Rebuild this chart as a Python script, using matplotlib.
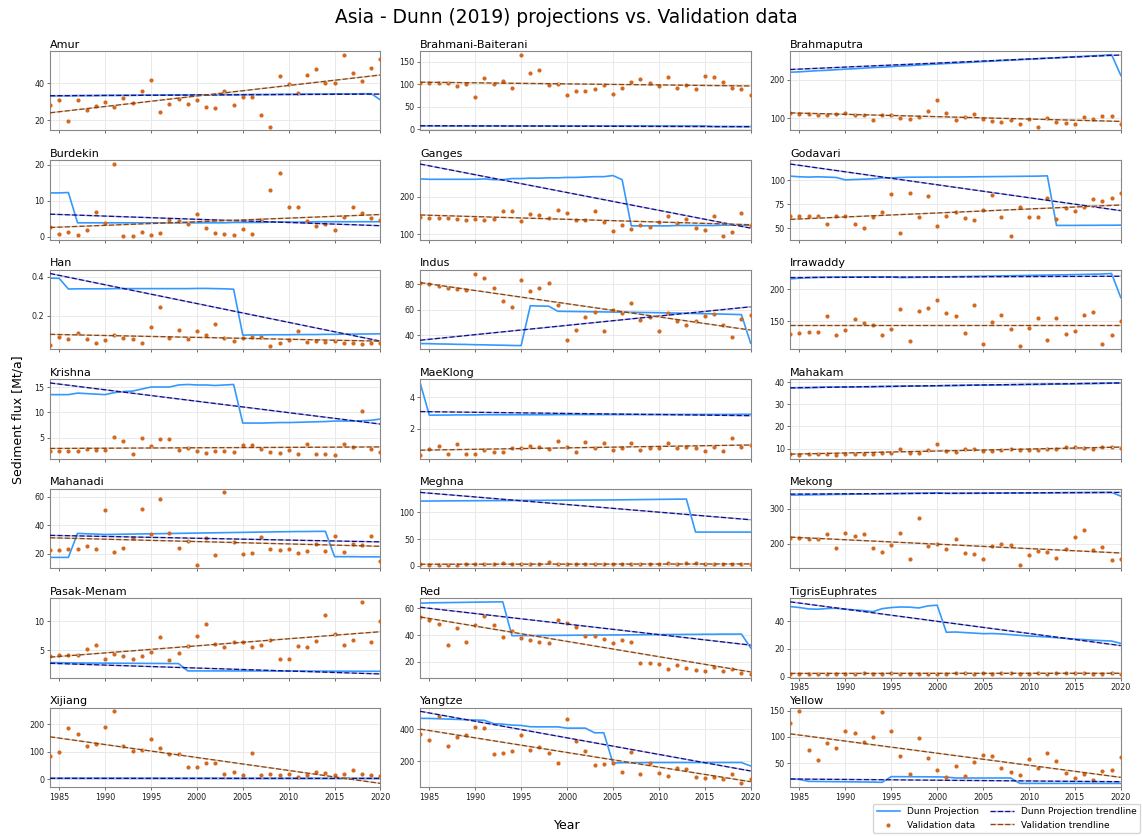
import matplotlib.pyplot as plt
from matplotlib.ticker import MaxNLocator, MultipleLocator

years = list(range(1984, 2021))

rivers = ['Amur', 'Brahmani-Baiterani', 'Brahmaputra',
          'Burdekin', 'Ganges', 'Godavari',
          'Han', 'Indus', 'Irrawaddy',
          'Krishna', 'MaeKlong', 'Mahakam',
          'Mahanadi', 'Meghna', 'Mekong',
          'Pasak-Menam', 'Red', 'TigrisEuphrates',
          'Xijiang', 'Yangtze', 'Yellow']

# Dunn (2019) projected sediment flux [Mt/a], 1984-2020
dunn_projection = [
    # Amur
    [33.3, 33.3, 33.3, 33.4, 33.4, 33.4, 33.5, 33.5, 33.5, 33.5,
     33.6, 33.6, 33.6, 33.7, 33.7, 33.7, 33.8, 33.8, 33.8, 33.9,
     33.9, 33.9, 34.0, 34.0, 34.0, 34.1, 34.1, 34.1, 34.2, 34.2,
     34.2, 34.3, 34.3, 34.3, 34.4, 34.4, 31.0],
    # Brahmani-Baiterani
    [7.2, 7.2, 7.1, 7.1, 7.1, 7.1, 7.0, 7.0, 7.0, 7.0,
     7.0, 7.0, 7.0, 7.0, 7.0, 7.0, 6.9, 6.9, 6.9, 6.9,
     6.9, 6.9, 6.9, 6.9, 6.9, 6.8, 6.8, 6.8, 6.8, 6.8,
     6.8, 6.8, 5.6, 5.6, 5.6, 5.6, 5.6],
    # Brahmaputra
    [219, 220, 221.5, 223, 224, 225.5, 227, 228, 229.5, 231,
     232, 233.5, 235, 236, 237.5, 239, 240, 241.5, 242.5, 244,
     245, 246.5, 247.5, 249, 250, 251.5, 252.5, 254, 255, 256.5,
     257.5, 259, 260, 261.5, 262.5, 264.5, 211],
    # Burdekin
    [12.2, 12.2, 12.3, 3.9, 3.9, 3.9, 3.9, 3.9, 3.9, 3.9,
     3.9, 3.9, 3.9, 3.9, 3.9, 3.9, 3.9, 3.9, 3.9, 3.9,
     4.0, 4.0, 4.0, 4.0, 4.1, 4.1, 4.1, 4.1, 4.1, 4.2,
     4.2, 4.2, 4.2, 4.2, 4.2, 4.2, 4.2],
    # Ganges
    [247, 246, 246, 246, 246, 246, 246, 247, 245, 245,
     248, 248, 249, 249, 250, 250, 251, 251, 252, 253,
     253, 256, 245, 122, 122, 122, 122, 122, 123, 123,
     123, 123, 123, 124, 124, 124, 124],
    # Godavari
    [104.2, 103.5, 103.2, 103.5, 103.2, 102.8, 100.3, 100.7, 101.0, 101.4,
     102.4, 102.4, 102.8, 103.1, 103.1, 103.2, 103.2, 103.3, 103.3, 103.4,
     103.5, 103.6, 103.7, 103.8, 103.9, 104.0, 104.1, 104.2, 104.5, 52.8,
     52.8, 52.8, 52.9, 52.9, 53.0, 53.0, 53.1],
    # Han
    [0.393, 0.392, 0.337, 0.338, 0.338, 0.338, 0.338, 0.339, 0.339, 0.339,
     0.339, 0.339, 0.339, 0.339, 0.339, 0.339, 0.340, 0.340, 0.339, 0.338,
     0.336, 0.099, 0.100, 0.100, 0.101, 0.101, 0.101, 0.102, 0.102, 0.102,
     0.103, 0.103, 0.104, 0.104, 0.105, 0.105, 0.106],
    # Indus
    [33.7, 33.6, 33.4, 33.3, 33.1, 33.0, 32.8, 32.7, 32.5, 32.4,
     32.2, 32.1, 63.2, 63.0, 62.9, 58.9, 58.8, 58.7, 58.6, 58.5,
     58.4, 58.3, 58.2, 58.1, 58.0, 57.9, 57.8, 57.6, 57.5, 57.3,
     57.2, 57.0, 56.9, 56.7, 56.5, 56.3, 34.0],
    # Irrawaddy
    [216.5, 217.6, 218.5, 219.0, 219.2, 219.4, 219.5, 219.5, 219.6, 219.6,
     219.7, 219.7, 218.6, 218.8, 219.0, 219.2, 219.5, 219.7, 220.0, 220.2,
     220.5, 220.7, 221.0, 221.2, 221.5, 221.8, 222.0, 222.3, 222.5, 222.8,
     223.0, 223.3, 223.6, 223.9, 224.2, 225.0, 187.0],
    # Krishna
    [13.5, 13.5, 13.5, 13.8, 13.7, 13.6, 13.5, 13.9, 14.1, 14.2,
     14.6, 15.0, 15.0, 15.0, 15.4, 15.5, 15.4, 15.4, 15.3, 15.4,
     15.5, 7.9, 7.9, 7.9, 7.95, 8.0, 8.0, 8.05, 8.1, 8.15,
     8.2, 8.3, 8.3, 8.3, 8.35, 8.45, 8.7],
    # MaeKlong
    [4.9, 2.85, 2.86, 2.86, 2.87, 2.87, 2.87, 2.88, 2.88, 2.88,
     2.88, 2.88, 2.88, 2.88, 2.88, 2.89, 2.89, 2.89, 2.89, 2.89,
     2.89, 2.89, 2.89, 2.89, 2.89, 2.89, 2.9, 2.9, 2.9, 2.9,
     2.9, 2.9, 2.9, 2.9, 2.9, 2.91, 2.91],
    # Mahakam
    [37.4, 37.5, 37.5, 37.6, 37.7, 37.7, 37.8, 37.8, 37.9, 37.9,
     38.0, 38.0, 38.1, 38.2, 38.2, 38.3, 38.3, 38.4, 38.4, 38.5,
     38.6, 38.6, 38.7, 38.7, 38.8, 38.8, 38.9, 38.9, 39.0, 39.1,
     39.1, 39.2, 39.3, 39.3, 39.4, 39.5, 39.6],
    # Mahanadi
    [17.4, 17.4, 17.4, 34.3, 34.0, 33.8, 33.5, 33.6, 33.7, 33.8,
     33.9, 34.0, 34.1, 34.2, 34.3, 34.4, 34.5, 34.6, 34.7, 34.8,
     34.9, 35.0, 35.1, 35.2, 35.3, 35.4, 35.5, 35.6, 35.6, 35.7,
     35.7, 17.9, 17.9, 17.9, 17.8, 17.8, 17.8],
    # Meghna
    [120.8, 120.9, 121.0, 121.2, 121.3, 121.4, 121.5, 121.6, 121.7, 121.8,
     121.9, 122.0, 122.1, 122.2, 122.3, 122.4, 122.5, 122.6, 122.7, 122.8,
     122.9, 123.0, 123.2, 123.4, 123.6, 123.8, 124.0, 124.2, 124.4, 124.5,
     63.0, 63.0, 63.0, 63.0, 63.0, 63.0, 63.0],
    # Mekong
    [338.8, 339.2, 339.6, 340.0, 340.4, 340.8, 341.2, 341.6, 342.0, 342.4,
     342.8, 343.2, 343.6, 344.0, 344.4, 344.8, 345.6, 343.7, 343.8, 343.9,
     344.0, 344.2, 344.4, 344.6, 344.8, 345.0, 345.2, 345.4, 345.6, 345.8,
     346.0, 346.1, 346.2, 346.3, 346.4, 346.6, 336.0],
    # Pasak-Menam
    [2.93, 2.9, 2.88, 2.86, 2.85, 2.84, 2.83, 2.82, 2.81, 2.8,
     2.79, 2.78, 2.77, 2.76, 2.75, 1.5, 1.5, 1.5, 1.5, 1.5,
     1.5, 1.5, 1.5, 1.49, 1.49, 1.48, 1.48, 1.47, 1.47, 1.46,
     1.46, 1.45, 1.45, 1.45, 1.44, 1.44, 1.43],
    # Red
    [63.75, 64.0, 64.1, 64.2, 64.3, 64.4, 64.5, 64.6, 64.7, 64.75,
     39.5, 39.6, 39.6, 39.7, 39.7, 39.8, 39.8, 39.9, 39.9, 40.0,
     40.0, 40.1, 40.1, 40.2, 40.2, 40.3, 40.3, 40.4, 40.4, 40.5,
     40.5, 40.6, 40.6, 40.7, 40.7, 40.75, 30.5],
    # TigrisEuphrates
    [50.5, 49.8, 48.8, 48.6, 49.1, 49.3, 48.6, 48.1, 47.6, 46.8,
     49.0, 49.8, 50.2, 50.1, 49.5, 51.0, 51.5, 32.0, 32.2, 31.8,
     31.4, 31.0, 31.1, 30.8, 30.3, 29.8, 29.3, 29.0, 28.6, 28.1,
     27.6, 27.1, 26.7, 26.3, 26.0, 25.7, 24.0],
    # Xijiang
    [2.6, 2.6, 2.6, 2.5, 2.5, 2.5, 2.5, 2.5, 2.5, 2.4,
     2.4, 2.4, 2.4, 2.4, 2.4, 2.4, 2.4, 2.4, 2.4, 2.4,
     2.3, 2.3, 2.3, 2.3, 2.3, 2.3, 2.3, 2.3, 2.3, 2.3,
     2.3, 2.3, 2.2, 2.2, 2.2, 2.2, 2.0],
    # Yangtze
    [469.5, 469, 467, 465, 463, 461, 459, 457, 435.8, 433,
     427, 425, 416.8, 416, 416, 416, 408, 408, 408, 379,
     379, 189.5, 191, 191, 191, 192, 192, 192, 192, 192,
     192, 192, 192, 192, 192, 192, 170.5],
    # Yellow
    [19.9, 19.2, 15.4, 15.2, 15.0, 14.8, 14.6, 14.4, 14.2, 14.0,
     13.5, 24.4, 24.3, 24.2, 24.1, 24.0, 23.9, 23.5, 21.8, 21.8,
     21.8, 21.8, 21.8, 21.8, 21.8, 11.5, 11.5, 11.5, 11.5, 11.5,
     11.5, 11.5, 11.5, 11.5, 11.5, 11.5, 11.5],
]

# observed sediment flux [Mt/a], 1984-2020
validation = [
    # Amur
    [28.3, 30.8, 19.8, 31.2, 25.4, 27.9, 29.7, 27.4, 32.1, 29.4,
     36.0, 42.0, 24.5, 29.0, 31.7, 29.0, 31.0, 27.2, 26.8, 35.7,
     28.3, 32.8, 32.4, 22.7, 16.6, 44.1, 39.8, 34.6, 44.5, 47.6,
     40.4, 40.2, 55.5, 45.6, 41.1, 48.3, 53.2],
    # Brahmani-Baiterani
    [102, 102, 102, 102, 95, 101, 72, 114, 101, 108,
     91, 166, 124, 132, 98.5, 101, 75, 85.6, 85.6, 90,
     98.5, 79, 91.7, 104.5, 110.6, 102, 97, 116, 91.7, 97.7,
     90, 117.4, 116, 104, 91.7, 89.4, 75.8],
    # Brahmaputra
    [113.9, 111.3, 111.3, 109.6, 109.6, 111.3, 114.8, 108.7, 109.6, 95.7,
     109.6, 107.8, 100, 98.3, 104.3, 120, 146, 114.8, 96.5, 104.3,
     110.4, 99.1, 93.9, 91.3, 96.5, 86, 98.3, 78.3, 100.9, 91.3,
     88.7, 86, 102.6, 98.3, 106.1, 105.2, 86],
    # Burdekin
    [2.7, 0.9, 1.4, 0.5, 1.9, 6.9, 3.8, 20.2, 0.2, 0.2,
     1.3, 0.5, 1.1, 4.8, 4.5, 3.7, 6.3, 2.4, 1.2, 0.7,
     0.6, 2.2, 0.8, 4.8, 12.9, 17.8, 8.4, 8.4, 4.5, 2.9,
     3.5, 2.0, 5.4, 8.2, 6.7, 5.1, 4.6],
    # Ganges
    [144.6, 142.9, 142.9, 142.9, 139.3, 138.4, 140.2, 138.4, 141, 161.6,
     160.7, 134.8, 152.7, 150, 142.9, 163.4, 156.3, 137.5, 136.6, 161.6,
     131.3, 108.9, 123.2, 114.3, 123.2, 119.6, 131.3, 149.1, 128.6, 139.3,
     116.1, 111.6, 148.2, 94.6, 106.3, 155.4, 123.2],
    # Godavari
    [62.6, 62.6, 62.6, 62.6, 54.2, 62.2, 62.6, 53.8, 50.3, 61.2,
     66.8, 86, 45.1, 86.7, 61.5, 83.6, 52.1, 62.6, 66.8, 60.1,
     58.4, 68.5, 84.3, 61.2, 41.6, 72.4, 61.9, 61.2, 81.1, 59.4,
     70.6, 67.8, 71.7, 80.8, 78.3, 81.5, 86.7],
    # Han
    [0.050, 0.090, 0.077, 0.108, 0.077, 0.061, 0.073, 0.101, 0.085, 0.078,
     0.061, 0.141, 0.242, 0.085, 0.123, 0.077, 0.118, 0.101, 0.155, 0.082,
     0.068, 0.085, 0.090, 0.090, 0.045, 0.061, 0.073, 0.120, 0.063, 0.070,
     0.063, 0.070, 0.057, 0.056, 0.054, 0.059, 0.061],
    # Indus
    [81.3, 80, 78.7, 77.4, 76.6, 75.5, 88.4, 85, 77.1, 66.8,
     62.6, 83.7, 74.5, 77.4, 81.3, 63.7, 36.3, 44.2, 54.7, 58.4,
     43.7, 60, 57.9, 65.5, 51.8, 54.2, 43.2, 57.6, 51.6, 47.9,
     51.3, 55.3, 56.6, 47.9, 38.9, 53.2, 56.3],
    # Irrawaddy
    [130.3, 131.4, 131.9, 133, 158, 127.7, 135.6, 152.7, 147.3, 144.1,
     128.7, 136.7, 169.1, 118.1, 165.4, 170.2, 182.4, 162.2, 158.5, 131.4,
     174.5, 113.3, 148.4, 159.6, 137.8, 111.2, 138.8, 155.3, 119.7, 154.8,
     129.8, 134.6, 159.6, 163.8, 113.8, 128.7, 150],
    # Krishna
    [2.4, 2.4, 2.4, 2.4, 2.8, 2.5, 2.6, 5.1, 4.4, 1.8,
     5.0, 3.4, 4.7, 4.8, 2.5, 2.9, 2.3, 2.0, 2.4, 2.4,
     2.2, 3.6, 3.6, 2.7, 2.2, 2.1, 2.6, 1.8, 3.75, 1.8,
     1.8, 1.6, 3.8, 3.2, 10.3, 2.7, 2.2],
    # MaeKlong
    [0.32, 0.68, 0.89, 0.40, 1.0, 0.40, 0.38, 0.66, 0.53, 0.53,
     0.79, 0.79, 0.91, 0.83, 0.72, 1.21, 0.83, 0.53, 1.17, 0.79,
     1.11, 0.64, 0.77, 1.11, 0.62, 0.79, 0.79, 1.06, 0.74, 0.85,
     0.74, 0.57, 0.81, 0.60, 1.38, 0.81, 0.96],
    # Mahakam
    [7.6, 7.3, 7.6, 7.6, 7.7, 7.1, 7.6, 7.7, 7.7, 7.6,
     8.0, 8.2, 10.0, 8.2, 8.0, 9.4, 12.2, 8.9, 8.6, 9.8,
     9.7, 8.9, 8.8, 9.4, 9.7, 9.4, 9.5, 9.2, 10.0, 10.0,
     10.6, 10.6, 10.4, 10.0, 10.9, 10.9, 10.4],
    # Mahanadi
    [22.6, 22.6, 23.1, 23.1, 25.5, 23.1, 50.5, 21.4, 24.3, 31.0,
     51.7, 33.6, 58.3, 34.5, 23.8, 28.6, 12.4, 30.7, 18.8, 63.1,
     27.9, 20.0, 20.7, 31.4, 23.3, 22.4, 23.3, 20.7, 22.1, 26.9,
     22.1, 32.6, 21.0, 27.1, 26.2, 32.1, 14.8],
    # Meghna
    [3.0, 2.5, 2.5, 2.5, 2.5, 3.8, 3.0, 3.8, 3.8, 5.0,
     3.0, 3.0, 3.0, 3.8, 6.3, 3.0, 3.8, 3.8, 3.8, 3.8,
     3.8, 3.8, 3.8, 3.8, 3.8, 3.0, 3.0, 4.4, 3.8, 4.4,
     5.0, 3.0, 3.8, 3.8, 3.8, 3.0, 3.0],
    # Mekong
    [216.5, 215.5, 213.6, 213.6, 228.2, 188.3, 230.1, 222.3, 227.2, 188.3,
     176.7, 196.1, 229.1, 155.3, 273.8, 194.2, 200, 183.5, 211.7, 172.8,
     170.9, 154.4, 194.2, 199, 196.1, 139.8, 167, 177.7, 176.7, 159.2,
     184.5, 218.4, 239.8, 180.6, 190.3, 152.4, 154.4],
    # Pasak-Menam
    [4.1, 4.25, 4.25, 4.25, 5.2, 6.0, 3.6, 4.4, 4.0, 3.6,
     4.0, 4.65, 7.25, 3.3, 4.5, 5.75, 7.4, 9.5, 6.15, 5.6,
     6.4, 6.5, 5.6, 6.0, 6.8, 3.45, 3.55, 5.75, 5.6, 6.55,
     11.1, 7.8, 6.0, 6.8, 13.3, 6.5, 9.95],
    # Red
    [53.5, 51.25, 48, 32.25, 45.5, 35, 47.75, 54, 47.25, 38.5,
     43, 37.5, 36.5, 35, 33.75, 51.5, 48.75, 46, 39.5, 39.5,
     36.75, 34.25, 36.25, 34.75, 19.5, 19.5, 18.25, 14.75, 18, 15.75,
     14.25, 13, 16, 13.25, 14.75, 12, 11],
    # TigrisEuphrates
    [2.3, 2.2, 2.2, 2.2, 2.3, 2.2, 2.3, 2.2, 2.8, 2.3,
     2.2, 2.8, 2.0, 2.0, 2.3, 2.2, 2.3, 2.2, 2.4, 2.7,
     2.3, 2.8, 2.3, 2.6, 2.7, 2.3, 2.3, 2.6, 2.2, 2.6,
     2.7, 2.7, 2.6, 2.3, 2.3, 2.4, 2.3],
    # Xijiang
    [84, 99, 187, 164, 122, 128, 189, 247, 122, 102,
     105, 147, 113, 90, 92, 45, 45, 59, 57, 19,
     25, 15, 96, 13, 17, 13, 19, 8, 16, 27,
     21, 13, 19, 34, 19, 15, 12],
    # Yangtze
    [370.5, 334.7, 486, 296.8, 353.7, 362, 412.6, 410.5, 244, 254.7,
     263, 362, 273.7, 288.4, 254.7, 189.5, 467.4, 324.2, 267.4, 179,
     183, 187.4, 134.7, 259, 122, 189.5, 126.3, 105.3, 155.8, 151.6,
     101, 92.6, 103.2, 86.3, 122, 61, 90.5],
    # Yellow
    [126.9, 148.7, 75.6, 55.8, 88.5, 79.5, 110.3, 107.7, 89.7, 100.6,
     146.8, 111.5, 62.8, 30.1, 98.1, 59, 37.8, 23.7, 44.2, 25,
     51.9, 66, 62.8, 40.4, 33.3, 26.9, 57, 41, 69.2, 53.8,
     31.4, 21.8, 30.1, 18.6, 35.3, 37.2, 62.2],
]

# linear trend values at 1984 and 2020
dunn_trend = [(33.3, 34.2), (7.3, 5.2), (226, 263.5),
              (6.3, 3.1), (286.6, 116), (116.8, 68.2),
              (0.417, 0.068), (36.3, 62.4), (218.6, 220.7),
              (15.8, 7.7), (3.08, 2.82), (37.4, 39.6),
              (32.9, 28.3), (137, 86), (341.7, 346.6),
              (2.8, 0.98), (60.75, 32.5), (53.9, 22.4),
              (2.6, 2.2), (513.7, 139), (19.9, 14.7)]
validation_trend = [(24.1, 44.5), (104.5, 96), (114, 92),
                    (2.6, 6.2), (151, 125), (59.1, 74.1),
                    (0.103, 0.068), (81.3, 44.2), (143.6, 143.6),
                    (2.9, 3.2), (0.63, 0.96), (7.5, 10.7),
                    (31.2, 25.2), (3.0, 3.5), (218.4, 172.8),
                    (3.85, 8.2), (53.5, 12.5), (2.4, 2.5),
                    (154, -16), (402, 71.6), (105.8, 23)]

c_dunn = '#3399ff'
c_dunn_trend = '#10108c'
c_val = '#d2691e'
c_val_trend = '#8b4513'

fig, axes = plt.subplots(7, 3, figsize=(11.42, 8.36), dpi=100, sharex=True)
fig.subplots_adjust(left=0.0438, right=0.9814, top=0.939, bottom=0.0586,
                    wspace=0.12, hspace=0.38)

trend_x = [years[0], years[-1]]
for ax, name, dunn, val, dt, vt in zip(axes.flat, rivers, dunn_projection,
                                       validation, dunn_trend, validation_trend):
    h1, = ax.plot(years, dunn, color=c_dunn, lw=1.2, zorder=2)
    h2 = ax.scatter(years, val, s=9, color=c_val, linewidths=0, zorder=3)
    h3, = ax.plot(trend_x, dt, '--', color=c_dunn_trend, gapcolor='#a9a9d6',
                  lw=1.0, zorder=4)
    h4, = ax.plot(trend_x, vt, '--', color=c_val_trend, gapcolor='#dcc0a6',
                  lw=1.0, zorder=4)
    ax.set_title(name, loc='left', fontsize=8, pad=2.5)
    ax.set_xlim(1984, 2020)
    ax.xaxis.set_major_locator(MultipleLocator(5))
    ax.yaxis.set_major_locator(MaxNLocator(4, steps=[1, 2, 2.5, 5, 10]))
    ax.grid(True, color='#e6e6e6', lw=0.6)
    ax.set_axisbelow(True)
    ax.tick_params(labelsize=5.8, length=2.5, width=0.6, colors='#555555',
                   labelcolor='#222222', pad=1.5)
    for sp in ax.spines.values():
        sp.set_color('#888888')
        sp.set_linewidth(0.8)

# the TigrisEuphrates panel keeps its year labels too
axes[5, 2].tick_params(labelbottom=True)

fig.suptitle('Asia - Dunn (2019) projections vs. Validation data',
             fontsize=13.4, x=0.496, y=0.99)
fig.text(0.016, 0.498, 'Sediment flux [Mt/a]', rotation=90,
         ha='center', va='center', fontsize=9)
fig.text(0.4965, 0.013, 'Year', ha='center', va='center', fontsize=9)

fig.legend([h1, h2, h3, h4],
           ['Dunn Projection', 'Validation data',
            'Dunn Projection trendline', 'Validation trendline'],
           loc='upper right', bbox_to_anchor=(1.0, 0.041), ncol=2,
           fontsize=6.5, frameon=True, borderaxespad=0.2,
           handlelength=2.6, columnspacing=1.2)

fig.savefig('out.png', dpi=100)
